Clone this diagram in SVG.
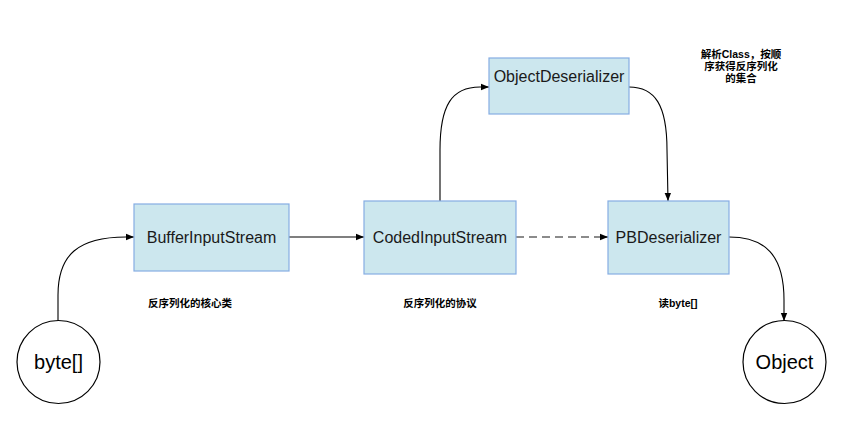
<svg xmlns="http://www.w3.org/2000/svg" width="850" height="427" viewBox="0 0 850 427">
<style>
.box{fill:#cce7ee;stroke:#85ade3;stroke-width:1.2}
.circ{fill:#ffffff;stroke:#000000;stroke-width:1.2}
.lbl{font-family:"Liberation Sans",Arial,sans-serif;font-size:16px;fill:#1a1a1a;text-anchor:middle}
.big{font-family:"Liberation Sans",Arial,sans-serif;font-size:20px;fill:#000000;text-anchor:middle}
.note{font-family:"Liberation Sans","Noto Sans CJK SC",sans-serif;font-size:10.5px;font-weight:bold;fill:#000000;text-anchor:middle}
.edge{fill:none;stroke:#000000;stroke-width:1.1}
.dash{fill:none;stroke:#666666;stroke-width:1.6;stroke-dasharray:8,5}
</style>
<defs>
<marker id="arr" viewBox="0 0 10 10" refX="10" refY="5" markerWidth="8" markerHeight="8" markerUnits="userSpaceOnUse" orient="auto">
<path d="M0,1 L10,5 L0,9 Z" fill="#000000"/>
</marker>
</defs>
<rect width="850" height="427" fill="#ffffff"/>
<g id="connectors">
<path class="edge" d="M58,321 L58,295 C58,255 78,237 126,237 L134,237" marker-end="url(#arr)"/>
<path class="edge" d="M289,237 L364,237" marker-end="url(#arr)"/>
<path class="edge" d="M440,201 L440,150 C440,105 452,87 480,87 L489,87" marker-end="url(#arr)"/>
<path class="edge" d="M629,87 C655,87 667,105 667,150 L668,201" marker-end="url(#arr)"/>
<path class="dash" d="M516,237 L600,237"/>
<path class="edge" d="M600,237 L608,237" marker-end="url(#arr)"/>
<path class="edge" d="M729,237 C765,237 784,255 784,300 L784,321" marker-end="url(#arr)"/>
</g>
<g id="byte">
<circle class="circ" cx="58.5" cy="362" r="41.5"/>
<text class="big" x="58.5" y="369">byte[]</text>
</g>
<g id="buffer">
<rect class="box" x="134" y="204" width="155" height="67"/>
<text class="lbl" x="211.5" y="243">BufferInputStream</text>
</g>
<g id="coded">
<rect class="box" x="364" y="201" width="152" height="73"/>
<text class="lbl" x="440" y="243">CodedInputStream</text>
</g>
<g id="objdes">
<rect class="box" x="489" y="58" width="140" height="56"/>
<text class="lbl" x="559" y="82">ObjectDeserializer</text>
</g>
<g id="pbdes">
<rect class="box" x="608" y="201" width="121" height="73"/>
<text class="lbl" x="668.5" y="243">PBDeserializer</text>
</g>
<g id="object">
<circle class="circ" cx="784.5" cy="362" r="41.5"/>
<text class="big" x="784.5" y="369">Object</text>
</g>
<g id="notes">
<text class="note" x="190" y="307">反序列化的核心类</text>
<text class="note" x="440" y="307">反序列化的协议</text>
<text class="note" x="678" y="307">读byte[]</text>
<text class="note" x="741" y="58">解析Class，按顺</text>
<text class="note" x="741" y="70">序获得反序列化</text>
<text class="note" x="741" y="82">的集合</text>
</g>
</svg>
